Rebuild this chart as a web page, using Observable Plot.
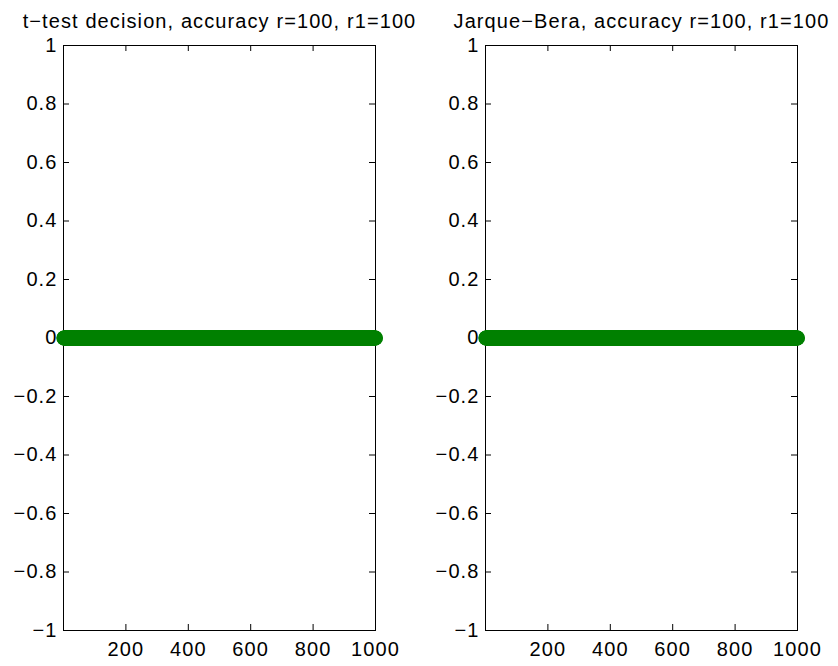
<!DOCTYPE html>
<html>
<head>
<meta charset="utf-8">
<script src="https://cdn.jsdelivr.net/npm/d3@7"></script>
<script src="https://cdn.jsdelivr.net/npm/@observablehq/plot@0.6"></script>
<style>
  html, body { margin: 0; padding: 0; background: #fff; }
  #chart { position: relative; width: 838px; height: 666px; background: #fff; }
  #chart svg { position: absolute; top: 0; }
</style>
</head>
<body>
<div id="chart"></div>
<script>
// ---- data ----
const titles = ["t\u2212test decision, accuracy r=100, r1=100", "Jarque\u2212Bera, accuracy r=100, r1=100"];
const sampleIndex = d3.range(1, 1001);              // observation number 1..1000
const tTestDecision = new Array(1000).fill(0);        // every decision plotted at 0
const jarqueBeraDecision = new Array(1000).fill(0);   // every decision plotted at 0
const xTicks = [200, 400, 600, 800, 1000];
const xTickLabels = ["200", "400", "600", "800", "1000"];
const yTicks = [-1, -0.8, -0.6, -0.4, -0.2, 0, 0.2, 0.4, 0.6, 0.8, 1];
const yTickLabels = ["\u22121", "\u22120.8", "\u22120.6", "\u22120.4", "\u22120.2", "0", "0.2", "0.4", "0.6", "0.8", "1"];

const FONT = "'Liberation Sans', Arial, Helvetica, sans-serif";
const GREEN = "rgb(0,128,0)";
const H = 666, MT = 45, MB = 36;

function panel(title, values, opts) {
  const data = sampleIndex.map((x, i) => ({x, y: values[i]}));
  const frameW = opts.width - opts.marginLeft - opts.marginRight;
  const frameH = H - MT - MB;
  const tick = 6;
  return Plot.plot({
    width: opts.width,
    height: H,
    marginLeft: opts.marginLeft,
    marginRight: opts.marginRight,
    marginTop: MT,
    marginBottom: MB,
    style: {fontFamily: FONT, fontSize: "20px", letterSpacing: "1.1px", color: "#000", background: "#fff", overflow: "visible"},
    x: {domain: [0, 1000], axis: null},
    y: {domain: [-1, 1], axis: null},
    marks: [
      // inward tick marks on all four sides
      Plot.tickX(xTicks, {x: d => d, insetTop: frameH - tick, stroke: "#000"}),
      Plot.tickX(xTicks, {x: d => d, insetBottom: frameH - tick, stroke: "#000"}),
      Plot.tickY(yTicks, {y: d => d, insetRight: frameW - tick, stroke: "#000"}),
      Plot.tickY(yTicks, {y: d => d, insetLeft: frameW - tick, stroke: "#000"}),
      Plot.axisX({ticks: xTicks, tickFormat: d => xTickLabels[xTicks.indexOf(d)], tickSize: 0, tickPadding: 11, fontSize: 20, label: null}),
      Plot.axisY({ticks: yTicks, tickFormat: d => yTickLabels[yTicks.indexOf(d)], tickSize: 0, tickPadding: 6, fontSize: 20, label: null}),
      Plot.frame({stroke: "#000", strokeWidth: 1}),
      Plot.dot(data, {x: "x", y: "y", r: 7.5, fill: GREEN, stroke: "none"}),
      Plot.text([title], {frameAnchor: "top", text: d => d, lineAnchor: "bottom", dy: -18, fontSize: 20, fill: "#000"})
    ]
  });
}

const chart = document.getElementById("chart");
const left = panel(titles[0], tTestDecision, {width: 430, marginLeft: 63, marginRight: 55});
left.style.left = "0px";
const right = panel(titles[1], jarqueBeraDecision, {width: 408, marginLeft: 55, marginRight: 41});
right.style.left = "430px";
chart.appendChild(left);
chart.appendChild(right);
</script>
</body>
</html>
